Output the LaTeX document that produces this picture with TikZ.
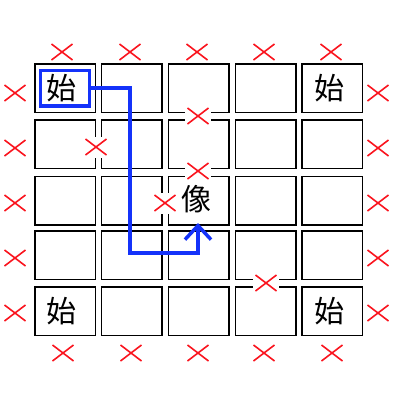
\documentclass[tikz,border=0pt]{standalone}
\usepackage{fontspec}
\newfontfamily\cjk{Noto Sans CJK JP}
\usetikzlibrary{arrows.meta}
\definecolor{routeblue}{RGB}{20,50,250}
\definecolor{markred}{RGB}{250,20,30}
\begin{document}
\begin{tikzpicture}[x=1pt,y=-1pt,
  cell/.style={draw=black, line width=1.5pt, minimum width=60.5pt, minimum height=48.5pt, inner sep=0pt},
  kanji/.style={font=\cjk\fontsize{30}{30}\selectfont, inner sep=0pt, text=black},
  nomark/.style={minimum width=26pt, minimum height=21pt, inner sep=0pt, fill=white,
    path picture={\draw[markred, line width=1.6pt]
      ([shift={(2.5pt,2.5pt)}]path picture bounding box.south west) --
      ([shift={(-2.5pt,-2.5pt)}]path picture bounding box.north east)
      ([shift={(2.5pt,-2.5pt)}]path picture bounding box.north west) --
      ([shift={(-2.5pt,2.5pt)}]path picture bounding box.south east);}},
  route/.style={draw=routeblue, line width=3.5pt}]
\useasboundingbox[fill=white] (0,0) rectangle (400,400);
% grid cells
\foreach \cx [count=\i] in {65,131.5,198.5,265.5,332}
  \foreach \cy [count=\j] in {88,144,200.5,255,311}
    \node[cell] (c\i\j) at (\cx,\cy) {};
% outer marks
\foreach \mx [count=\k] in {62,130,197,264,331}
  \node[nomark] (top\k) at (\mx,52) {};
\foreach \mx [count=\k] in {63,131,198,264,332}
  \node[nomark] (bot\k) at (\mx,353) {};
\foreach \my [count=\k] in {93,148,203,258,313}{
  \node[nomark] (lft\k) at (15,\my) {};
  \node[nomark] (rgt\k) at (378,\my) {};
}
% inner marks
\node[nomark] (m1) at (96,147) {};
\node[nomark] (m2) at (198,116) {};
\node[nomark] (m3) at (198,171) {};
\node[nomark] (m4) at (165,203) {};
\node[nomark] (m5) at (266,283) {};
% characters
\node[kanji] (s1) at (61,88) {始};
\node[kanji] (s2) at (329,88) {始};
\node[kanji] (s3) at (61,311) {始};
\node[kanji] (s4) at (329,311) {始};
\node[kanji] (img) at (196,199) {像};
% route
\node[route, minimum width=49pt, minimum height=35.5pt, inner sep=0pt] (start) at (65,88) {};
\coordinate (turn) at (130,253);
\coordinate (tip) at (198,223);
\draw[route, -{Straight Barb[length=14pt,width=26pt]}] (start.east) -| (turn) -| (tip);
\end{tikzpicture}
\end{document}
